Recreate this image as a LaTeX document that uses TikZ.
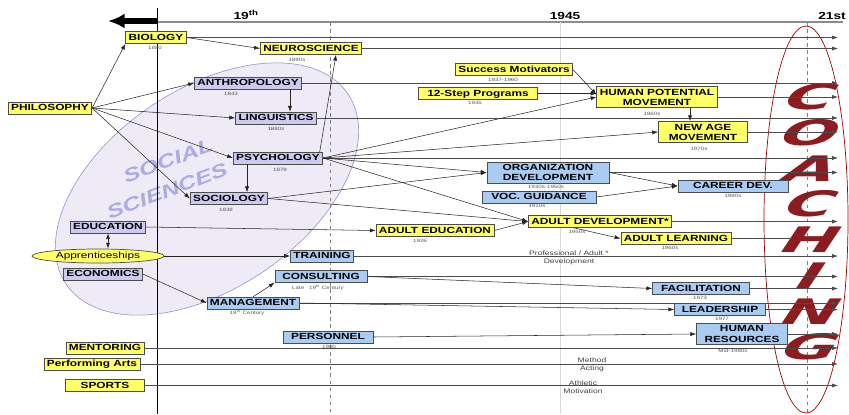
\documentclass[tikz,border=0pt]{standalone}
\usepackage{fontspec}
\usepackage{graphicx}
\setmainfont{Liberation Sans}[FakeStretch=1.33]
\newfontfamily\coachfont{DejaVu Sans}[FakeSlant=0.35]
\usetikzlibrary{arrows.meta,shapes.geometric}

\definecolor{boxyellow}{RGB}{255,255,102}
\definecolor{boxpurple}{RGB}{204,202,238}
\definecolor{boxblue}{RGB}{170,204,242}
\definecolor{socfill}{RGB}{238,234,246}
\definecolor{socline}{RGB}{150,145,195}
\definecolor{ssword}{RGB}{172,172,226}
\definecolor{coachred}{RGB}{140,28,32}

\newcommand{\boxsize}{\fontsize{7.6}{8.6}\selectfont}
\newcommand{\datesize}{\fontsize{4}{4.5}\selectfont}
\newcommand{\wideletter}[1]{\scalebox{1.9}[1]{#1}}

\tikzset{
  tbox/.style={draw=black!70, line width=0.6pt, inner xsep=2.5pt, inner ysep=1.8pt,
    font=\boxsize\bfseries, text height=5.6pt, text depth=0.8pt},
  twobox/.style={draw=black!70, line width=0.6pt, inner xsep=2.5pt, inner ysep=2pt,
    font=\boxsize\bfseries, align=center},
  yel/.style={fill=boxyellow},
  pur/.style={fill=boxpurple},
  blu/.style={fill=boxblue},
  apprbox/.style={ellipse, draw=black!70, line width=0.6pt, fill=boxyellow, inner sep=0pt,
    minimum width=3.96cm, minimum height=0.42cm, font=\boxsize},
  date/.style={font=\datesize, text=black!65, inner sep=0.5pt},
  note/.style={font=\fontsize{5.5}{6.6}\selectfont, text=black!75, align=center, inner sep=0.5pt},
  era/.style={font=\fontsize{8.8}{9}\selectfont\bfseries},
  link/.style={-{Latex[length=5pt,width=3.5pt]}, black!85, line width=0.45pt},
  linkboth/.style={{Latex[length=5pt,width=3.5pt]}-{Latex[length=5pt,width=3.5pt]}, black!85, line width=0.6pt},
  flow/.style={-{Latex[length=5pt,width=3.5pt]}, black!70, line width=0.55pt},
  coach/.style={font=\coachfont\bfseries\fontsize{30}{30}\selectfont, text=coachred, inner sep=0pt},
  ssword/.style={font=\bfseries\itshape\fontsize{16}{16}\selectfont, text=ssword, rotate=21}
}

\begin{document}
\begin{tikzpicture}[x=0.03cm, y=-0.03cm]
\useasboundingbox (0,0) rectangle (849,414);

% social sciences
\filldraw[fill=socfill, draw=socline, line width=0.5pt, rotate around={34:(207,189)}]
  (207,189) ellipse [x radius=170, y radius=100];
\node[ssword] (ssA) at (168,161) {SOCIAL};
\node[ssword] (ssB) at (167,191) {SCIENCES};

% time axis
\draw[black!45, line width=1.4pt] (157,22) -- (843,22);
\draw[black, line width=0.8pt] (157,8) -- (157,414);
\draw[black!50, dashed, line width=0.4pt] (330,22) -- (330,414);
\draw[black!15, line width=0.5pt] (560,22) -- (560,414);
\draw[black!50, dashed, line width=0.4pt] (807,22) -- (807,414);
\draw[line width=4.3pt, -{Latex[length=0.5cm,width=0.45cm]}] (157,21) -- (108,21);
\node[era] (c19) at (246,15) {19\textsuperscript{th}};
\node[era] (c1945) at (565,15.5) {1945};
\node[era] (c21) at (832,15.5) {21st};

% coaching
\draw[red!65!black, line width=0.6pt] (806,219.5) ellipse [x radius=42, y radius=193.5];
\foreach \ch [count=\i from 0] in {C,O,A,C,H,I,N,G}
  \node[coach] (coach\i) at (803,97+35.7*\i) {\wideletter{\ch}};

% yellow boxes
\node[tbox,yel] (phil) at (50,108) {PHILOSOPHY};
\node[tbox,yel] (bio) at (156,37.5) {BIOLOGY};
\node[tbox,yel] (neuro) at (311,48.5) {NEUROSCIENCE};
\node[tbox,yel] (success) at (514,69.5) {Success Motivators};
\node[tbox,yel,minimum width=3.57cm] (twelve) at (478,93.5) {12-Step Programs};
\node[twobox,yel] (hpm) at (657,97) {HUMAN POTENTIAL\\MOVEMENT};
\node[twobox,yel,minimum width=2.67cm] (newage) at (703,132) {NEW AGE\\MOVEMENT};
\node[tbox,yel] (adulted) at (435,230.5) {ADULT EDUCATION};
\node[tbox,yel] (adultdev) at (600,221.5) {ADULT DEVELOPMENT*};
\node[tbox,yel] (adultlearn) at (676,238.5) {ADULT LEARNING};
\node[apprbox] (appr) at (98,256) {Apprenticeships};
\node[tbox,yel] (mentor) at (105,348) {MENTORING};
\node[tbox,yel] (perf) at (92,364) {Performing Arts};
\node[tbox,yel,minimum width=2.35cm] (sports) at (105,385.5) {SPORTS};

% purple boxes
\node[tbox,pur] (anthro) at (248,83) {ANTHROPOLOGY};
\node[tbox,pur] (ling) at (276,118) {LINGUISTICS};
\node[tbox,pur] (psych) at (278,158) {PSYCHOLOGY};
\node[tbox,pur] (socio) at (229,198.5) {SOCIOLOGY};
\node[tbox,pur] (edu) at (108,227) {EDUCATION};
\node[tbox,pur] (econ) at (103,274) {ECONOMICS};

% blue boxes
\node[tbox,blu] (train) at (322,256) {TRAINING};
\node[tbox,blu,minimum width=2.76cm] (consult) at (321,276.5) {CONSULTING};
\node[tbox,blu] (mgmt) at (253,303) {MANAGEMENT};
\node[tbox,blu,minimum width=2.7cm] (pers) at (328,337) {PERSONNEL};
\node[twobox,blu,minimum width=3.66cm] (orgdev) at (548,172.5) {ORGANIZATION\\DEVELOPMENT};
\node[tbox,blu,minimum width=3.42cm] (voc) at (539,197) {VOC. GUIDANCE};
\node[tbox,blu,minimum width=3.3cm] (career) at (733,186) {CAREER DEV.};
\node[tbox,blu,minimum width=2.9cm] (facil) at (701,288.5) {FACILITATION};
\node[tbox,blu,minimum width=2.73cm] (lead) at (720,309.5) {LEADERSHIP};
\node[twobox,blu,minimum width=2.73cm] (hr) at (742,334) {HUMAN\\RESOURCES};

% dates
\node[date] (bioD) at (155,47.5) {1880};
\node[date] (neuroD) at (297,60) {1890s};
\node[date] (anthroD) at (231,93.5) {1843};
\node[date] (lingD) at (276,128.5) {1880s};
\node[date] (psychD) at (280,169.5) {1879};
\node[date] (socioD) at (226,209.5) {1838};
\node[date] (successD) at (503,79.5) {1937-1960};
\node[date] (twelveD) at (475,103) {1935};
\node[date] (hpmD) at (652,113.5) {1960s};
\node[date] (newageD) at (699,149) {1970s};
\node[date] (orgdevD) at (546,186.5) {1930s-1950s};
\node[date] (vocD) at (537,206) {1910s};
\node[date] (careerD) at (733,196) {1980s};
\node[date] (adultedD) at (420,241) {1926};
\node[date] (adultdevD) at (577,232) {1950s};
\node[date] (adultlearnD) at (670,248) {1960s};
\node[date] (consultD) at (318,288) {Late\enspace\enspace 19\textsuperscript{th} Century};
\node[date] (mgmtD) at (247,313) {19\textsuperscript{th} Century};
\node[date] (persD) at (329,347) {1900};
\node[date] (facilD) at (700,297.5) {1973};
\node[date] (leadD) at (722,318.5) {1977};
\node[date] (hrD) at (733,351) {Mid-1980s};

% notes on the lines
\node[note] (profN) at (569,257.5) {Professional / Adult *\\Development};
\node[note] (methodN) at (592,365) {Method\\Acting};
\node[note] (athN) at (583,387.5) {Athletic\\Motivation};

% lines into coaching
\coordinate (rim) at (838,0);
\coordinate (hcut) at (790,0);
\foreach \n in {bio,neuro,anthro,hpm,ling,newage,psych,orgdev,adultdev,train,consult,facil,mgmt,lead,hr,mentor,perf,sports}
  \draw[flow] (\n) -- (\n -| rim);
\draw[black!70, line width=0.55pt] (adultlearn) -- (adultlearn -| hcut);

% roots
\draw[link] (phil.east) -- (bio.south west);
\draw[link] (phil.east) -- (anthro.west);
\draw[link] (phil.east) -- (ling.west);
\draw[link] (phil.east) -- (psych.west);
\draw[link] (phil.east) -- (socio.west);
\draw[link] (bio.east) -- (neuro.west);
\draw[link] ([xshift=1.26cm]anthro.south) -- ([xshift=1.26cm]anthro.south |- ling.north);
\draw[link] ([xshift=-0.93cm]psych.south) -- ([xshift=-0.93cm]psych.south |- socio.north);
\draw[link] ([xshift=-0.1cm]psych.north east) -- ([xshift=0.75cm]neuro.south);
\draw[link] (psych.east) -- (hpm.west);
\draw[link] (psych.east) -- (newage.west);
\draw[link] (psych.east) -- (orgdev.west);
\draw[link] (psych.east) -- (adultdev.west);
\draw[link] (socio.east) -- (orgdev.west);
\draw[link] (socio.east) -- (adultdev.west);
\draw[link] (edu.east) -- (adulted.west);
\draw[link] (adulted.east) -- (adultdev.west);
\draw[link] (success.east) -- ([yshift=2pt]hpm.west);
\draw[link] (twelve) -- (twelve -| hpm.west);
\draw[link] ([xshift=0.99cm]hpm.south) -- ([xshift=0.99cm]hpm.south |- newage.north);
\draw[link] (orgdev.east) -- (career.west);
\draw[link] (voc.east) -- (career.west);
\draw[link] ([xshift=-0.8cm]adultdev.south) -- (adultlearn.west);
\draw[linkboth] (edu.south) -- (edu.south |- appr.north);
\draw[link] (appr.east) -- (train.west);
\draw[link] (econ.east) -- (mgmt.west);
\draw[link] (mgmt.north) -- (consult.south west);
\draw[link] (consult.east) -- (facil.west);
\draw[link] (mgmt.east) -- (lead.west);
\draw[link] (pers.east) -- (hr.west);

\end{tikzpicture}
\end{document}
